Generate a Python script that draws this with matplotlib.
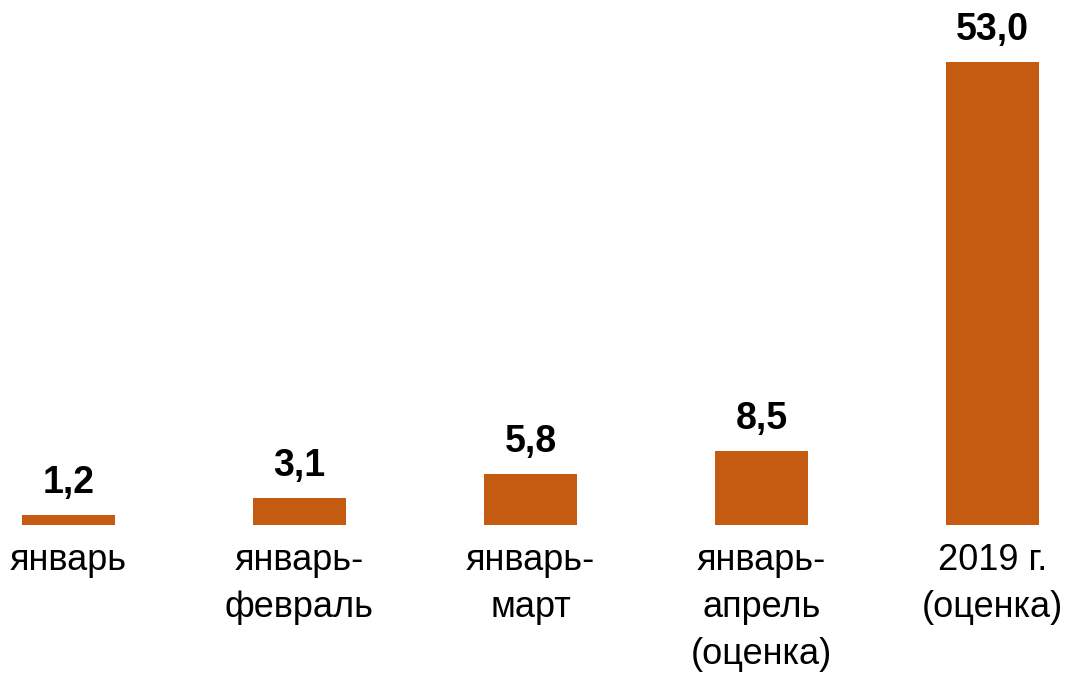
import matplotlib
matplotlib.use("Agg")
import matplotlib.pyplot as plt

# data
categories = ["январь", "январь-\nфевраль", "январь-\nмарт",
              "январь-\nапрель\n(оценка)", "2019 г.\n(оценка)"]
values = [1.2, 3.1, 5.8, 8.5, 53.0]
labels = ["1,2", "3,1", "5,8", "8,5", "53,0"]

plt.rcParams['font.family'] = ['Liberation Sans', 'DejaVu Sans']

fig = plt.figure(figsize=(10.66, 6.77), dpi=100)
ax = fig.add_axes([0.0209, 0.2245, 0.9535, 0.6839])

x = list(range(len(values)))
bars = ax.bar(x, values, width=0.403, color='#C55A11')

ax.bar_label(bars, labels=labels, padding=10, fontsize=27, fontweight='bold')

ax.set_xlim(-0.2, 4.2)
ax.set_ylim(0, 53.0)
ax.set_xticks(x)
ax.set_xticklabels(categories, fontsize=26, linespacing=1.45)
ax.tick_params(axis='x', length=0, pad=13)
ax.set_yticks([])
for s in ax.spines.values():
    s.set_visible(False)

fig.savefig("out.png", dpi=100)
